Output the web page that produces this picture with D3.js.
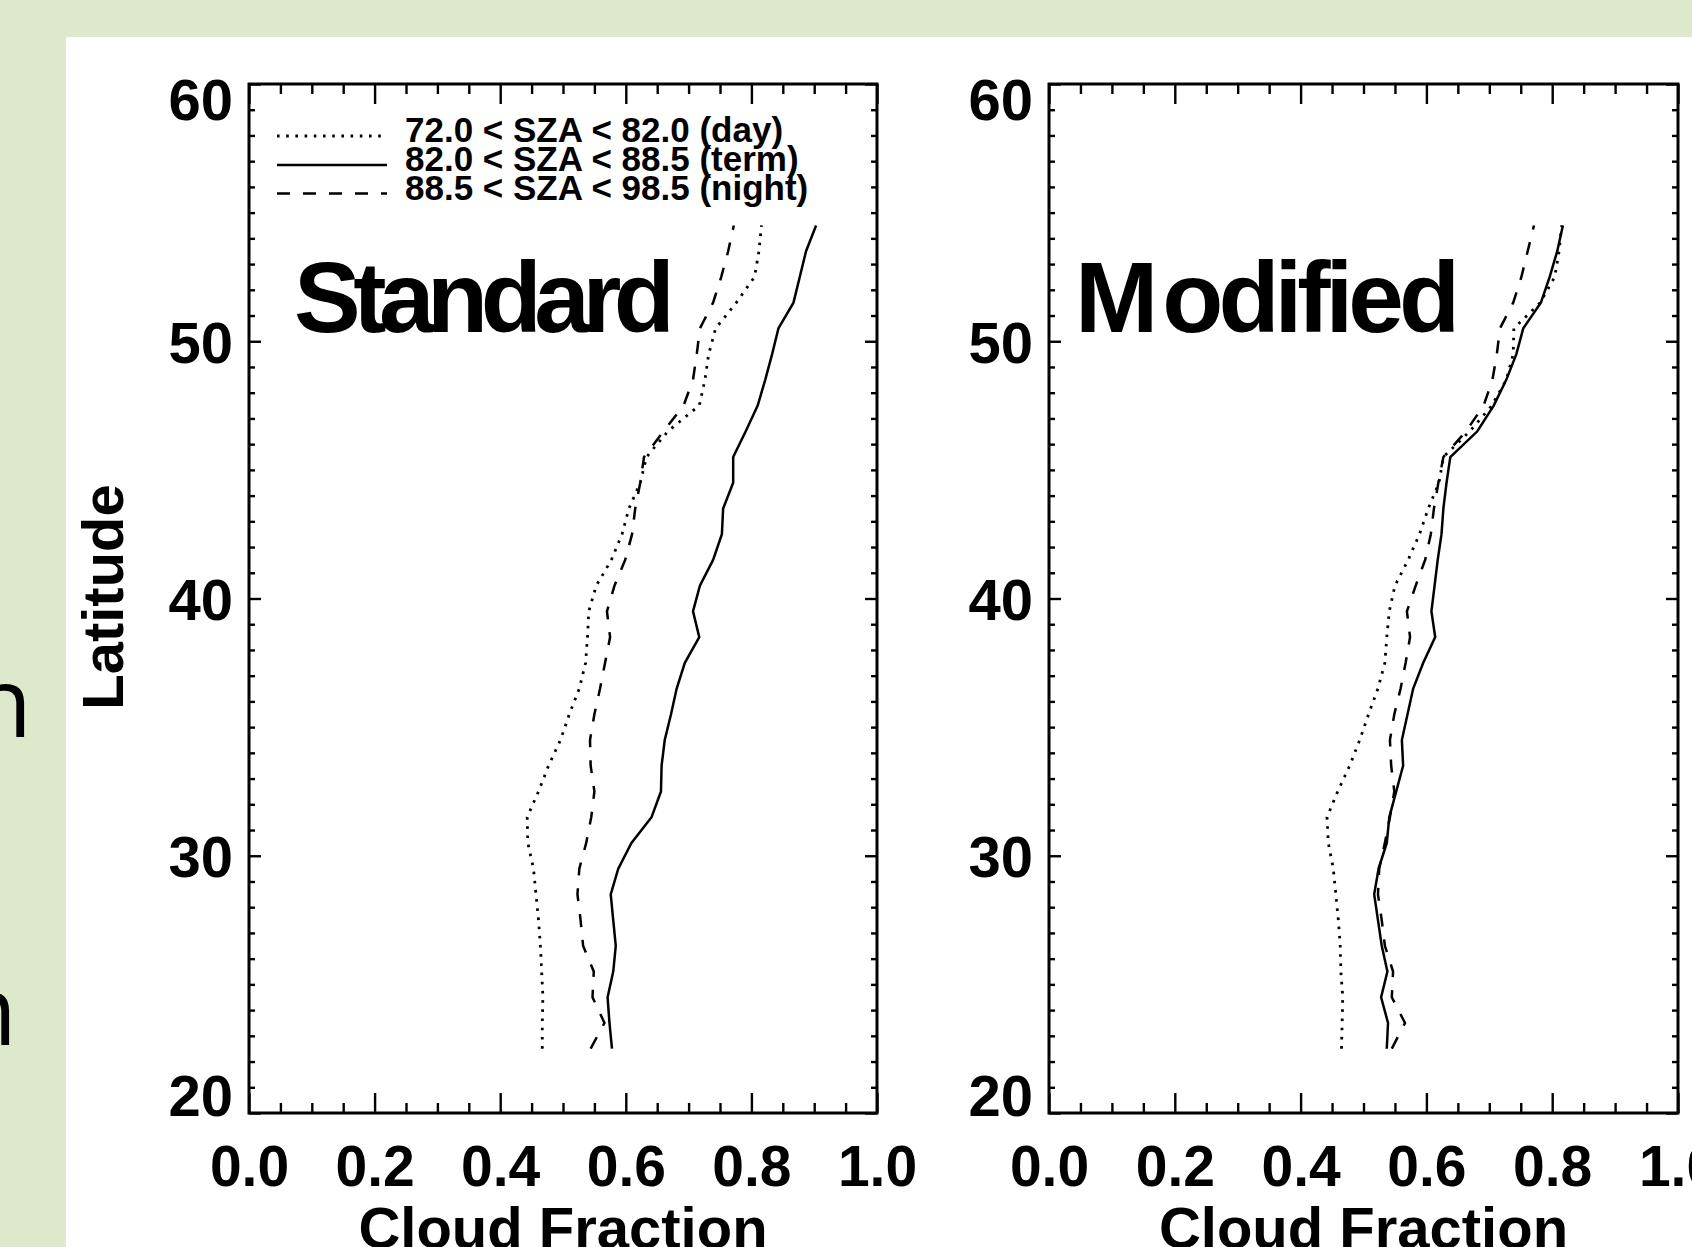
<!DOCTYPE html>
<html>
<head>
<meta charset="utf-8">
<script src="https://cdnjs.cloudflare.com/ajax/libs/d3/7.8.5/d3.min.js"></script>
<style>
  body { margin: 0; padding: 0; background: #fff; }
  svg { display: block; }
  text { font-family: "Liberation Sans", Arial, Helvetica, sans-serif; font-weight: bold; fill: #000;
         font-variant-ligatures: none; }
  .tick line { stroke: #000; stroke-width: 2.4; }
  .domain { display: none; }
</style>
</head>
<body>
<div id="chart"></div>
<script>
// latitude bins (deg) and cloud fractions
var lat = [22.5, 23.5, 24.5, 25.5, 26.5, 27.5, 28.5, 29.5, 30.5, 31.5, 32.5,
           33.5, 34.5, 35.5, 36.5, 37.5, 38.5, 39.5, 40.5, 41.5, 42.5, 43.5,
           44.5, 45.5, 46.5, 47.5, 48.5, 49.5, 50.5, 51.5, 52.5, 53.5, 54.5];

var dayStd   = [0.467, 0.467, 0.468, 0.466, 0.464, 0.461, 0.457, 0.453, 0.444, 0.443, 0.461,
                0.477, 0.496, 0.510, 0.526, 0.536, 0.539, 0.541, 0.553, 0.577, 0.594, 0.605,
                0.623, 0.633, 0.667, 0.717, 0.726, 0.732, 0.743, 0.776, 0.805, 0.812, 0.816];
var termStd  = [0.578, 0.574, 0.571, 0.580, 0.584, 0.580, 0.576, 0.588, 0.609, 0.641, 0.656,
                0.657, 0.662, 0.672, 0.681, 0.694, 0.717, 0.707, 0.718, 0.739, 0.753, 0.755,
                0.771, 0.771, 0.791, 0.810, 0.822, 0.833, 0.843, 0.867, 0.877, 0.887, 0.903];
var nightStd = [0.544, 0.566, 0.547, 0.549, 0.532, 0.528, 0.523, 0.526, 0.537, 0.545, 0.550,
                0.544, 0.543, 0.550, 0.559, 0.567, 0.575, 0.570, 0.582, 0.599, 0.610, 0.615,
                0.623, 0.629, 0.660, 0.692, 0.707, 0.713, 0.718, 0.739, 0.752, 0.763, 0.772];

var dayMod   = [0.465, 0.466, 0.467, 0.464, 0.463, 0.460, 0.456, 0.452, 0.444, 0.442, 0.459,
                0.478, 0.494, 0.508, 0.523, 0.534, 0.537, 0.541, 0.550, 0.571, 0.589, 0.603,
                0.620, 0.627, 0.669, 0.704, 0.727, 0.738, 0.739, 0.781, 0.804, 0.811, 0.815];
var termMod  = [0.537, 0.539, 0.528, 0.538, 0.529, 0.523, 0.517, 0.524, 0.537, 0.541, 0.552,
                0.563, 0.561, 0.570, 0.579, 0.595, 0.614, 0.608, 0.613, 0.618, 0.624, 0.627,
                0.632, 0.638, 0.681, 0.707, 0.727, 0.743, 0.754, 0.782, 0.796, 0.808, 0.817];
var nightMod = [0.545, 0.566, 0.545, 0.547, 0.534, 0.529, 0.523, 0.525, 0.534, 0.542, 0.549,
                0.544, 0.542, 0.549, 0.559, 0.567, 0.574, 0.569, 0.583, 0.598, 0.607, 0.612,
                0.619, 0.627, 0.663, 0.691, 0.705, 0.712, 0.717, 0.738, 0.751, 0.761, 0.771];

var xTicks = [0.0, 0.2, 0.4, 0.6, 0.8, 1.0];
var yTicks = [20, 30, 40, 50, 60];
var seriesNames = ["day", "term", "night"];
var legendLabels = ["72.0 < SZA < 82.0 (day)", "82.0 < SZA < 88.5 (term)", "88.5 < SZA < 98.5 (night)"];
var panelTitles = ["Standard", "Modified"];
var xTitle = "Cloud Fraction";
var yTitle = "Latitude";

var W = 1692, H = 1247;
var top_ = 84, bottom_ = 1113;
var dashFor = { day: "2.6 6.6", term: null, night: "13 13" };

var svg = d3.select("#chart").append("svg")
    .attr("width", W)
    .attr("height", H);

// slide background
svg.append("rect").attr("width", W).attr("height", H).attr("fill", "#dee8cb");
svg.append("rect").attr("x", 66).attr("y", 37).attr("width", W - 66).attr("height", H - 37).attr("fill", "#fff");

// bits of slide text peeking out on the left
svg.append("text").attr("x", 32).attr("y", 737).attr("text-anchor", "end")
    .style("font-family", "'Open Sans', sans-serif").style("font-weight", "400")
    .style("font-size", "97px").text("n");
svg.append("text").attr("x", 17).attr("y", 1045).attr("text-anchor", "end")
    .style("font-family", "'Open Sans', sans-serif").style("font-weight", "400")
    .style("font-size", "97px").text("n");

var yScale = d3.scaleLinear().domain([20, 60]).range([bottom_, top_]);

function drawPanel(left, right, data, title, withLegend, titleX) {
    var x = d3.scaleLinear().domain([0, 1]).range([left, right]);
    var g = svg.append("g");

    var xMinor = d3.range(0, 21).map(function (i) { return i * 0.05; })
        .filter(function (v) { return Math.abs(v * 5 - Math.round(v * 5)) > 1e-6; });
    var yMinor = d3.range(20, 61).filter(function (v) { return v % 10 !== 0; });

    // bottom axis with labels
    g.append("g").attr("transform", "translate(0," + bottom_ + ")")
        .call(d3.axisBottom(x).tickValues(xTicks).tickSize(-20).tickSizeOuter(0)
            .tickPadding(33).tickFormat(d3.format(".1f")))
        .selectAll("text").style("font-size", "57px");
    g.append("g").attr("transform", "translate(0," + bottom_ + ")")
        .call(d3.axisBottom(x).tickValues(xMinor).tickSize(-10).tickSizeOuter(0).tickFormat(""));
    // top mirror
    g.append("g").attr("transform", "translate(0," + top_ + ")")
        .call(d3.axisTop(x).tickValues(xTicks).tickSize(-20).tickSizeOuter(0).tickFormat(""));
    g.append("g").attr("transform", "translate(0," + top_ + ")")
        .call(d3.axisTop(x).tickValues(xMinor).tickSize(-10).tickSizeOuter(0).tickFormat(""));

    // left axis with labels
    var yAx = g.append("g").attr("transform", "translate(" + left + ",0)")
        .call(d3.axisLeft(yScale).tickValues(yTicks).tickSize(-12).tickSizeOuter(0).tickPadding(16));
    yAx.selectAll("text").style("font-size", "58px")
        .attr("dy", function (d) { return d === 60 ? "0.62em" : (d === 20 ? "0.04em" : "0.36em"); });
    g.append("g").attr("transform", "translate(" + left + ",0)")
        .call(d3.axisLeft(yScale).tickValues(yMinor).tickSize(-6).tickSizeOuter(0).tickFormat(""));
    // right mirror
    g.append("g").attr("transform", "translate(" + right + ",0)")
        .call(d3.axisRight(yScale).tickValues(yTicks).tickSize(-12).tickSizeOuter(0).tickFormat(""));
    g.append("g").attr("transform", "translate(" + right + ",0)")
        .call(d3.axisRight(yScale).tickValues(yMinor).tickSize(-6).tickSizeOuter(0).tickFormat(""));

    // frame
    g.append("rect").attr("x", left).attr("y", top_)
        .attr("width", right - left).attr("height", bottom_ - top_)
        .attr("fill", "none").attr("stroke", "#000").attr("stroke-width", 3);

    // profiles
    var line = d3.line()
        .x(function (d) { return x(d[1]); })
        .y(function (d) { return yScale(d[0]); });
    seriesNames.forEach(function (name) {
        var pts = lat.map(function (la, i) { return [la, data[name][i]]; });
        g.append("path").datum(pts)
            .attr("d", line)
            .attr("fill", "none")
            .attr("stroke", "#000")
            .attr("stroke-width", name === "day" ? 2.8 : 2.5)
            .attr("stroke-dasharray", dashFor[name]);
    });

    // panel title
    var t = g.append("text").attr("x", titleX).attr("y", 332).style("font-size", "100px");
    if (title === "Modified") {
        t.append("tspan").text("M");
        t.append("tspan").attr("dx", 4).style("letter-spacing", "-5px").text("odified");
    } else {
        t.style("letter-spacing", "-7.5px").text(title);
    }

    // axis titles
    g.append("text").attr("x", (left + right) / 2).attr("y", 1248)
        .attr("text-anchor", "middle").style("font-size", "58px").text(xTitle);

    if (withLegend) {
        var legRows = [136, 165, 193.5];
        seriesNames.forEach(function (name, i) {
            g.append("line").attr("x1", 277).attr("x2", 387)
                .attr("y1", legRows[i]).attr("y2", legRows[i])
                .attr("stroke", "#000").attr("stroke-width", name === "day" ? 2.8 : 2.5)
                .attr("stroke-dasharray", dashFor[name]);
            g.append("text").attr("x", 405).attr("y", legRows[i] + 6)
                .style("font-size", "35px").text(legendLabels[i]);
        });
    }
}

drawPanel(249, 877, { day: dayStd, term: termStd, night: nightStd }, panelTitles[0], true, 294);
drawPanel(1049, 1678, { day: dayMod, term: termMod, night: nightMod }, panelTitles[1], false, 1075);

svg.append("text")
    .attr("transform", "translate(123,597) rotate(-90)")
    .attr("text-anchor", "middle")
    .style("font-size", "58px")
    .text(yTitle);
</script>
</body>
</html>
